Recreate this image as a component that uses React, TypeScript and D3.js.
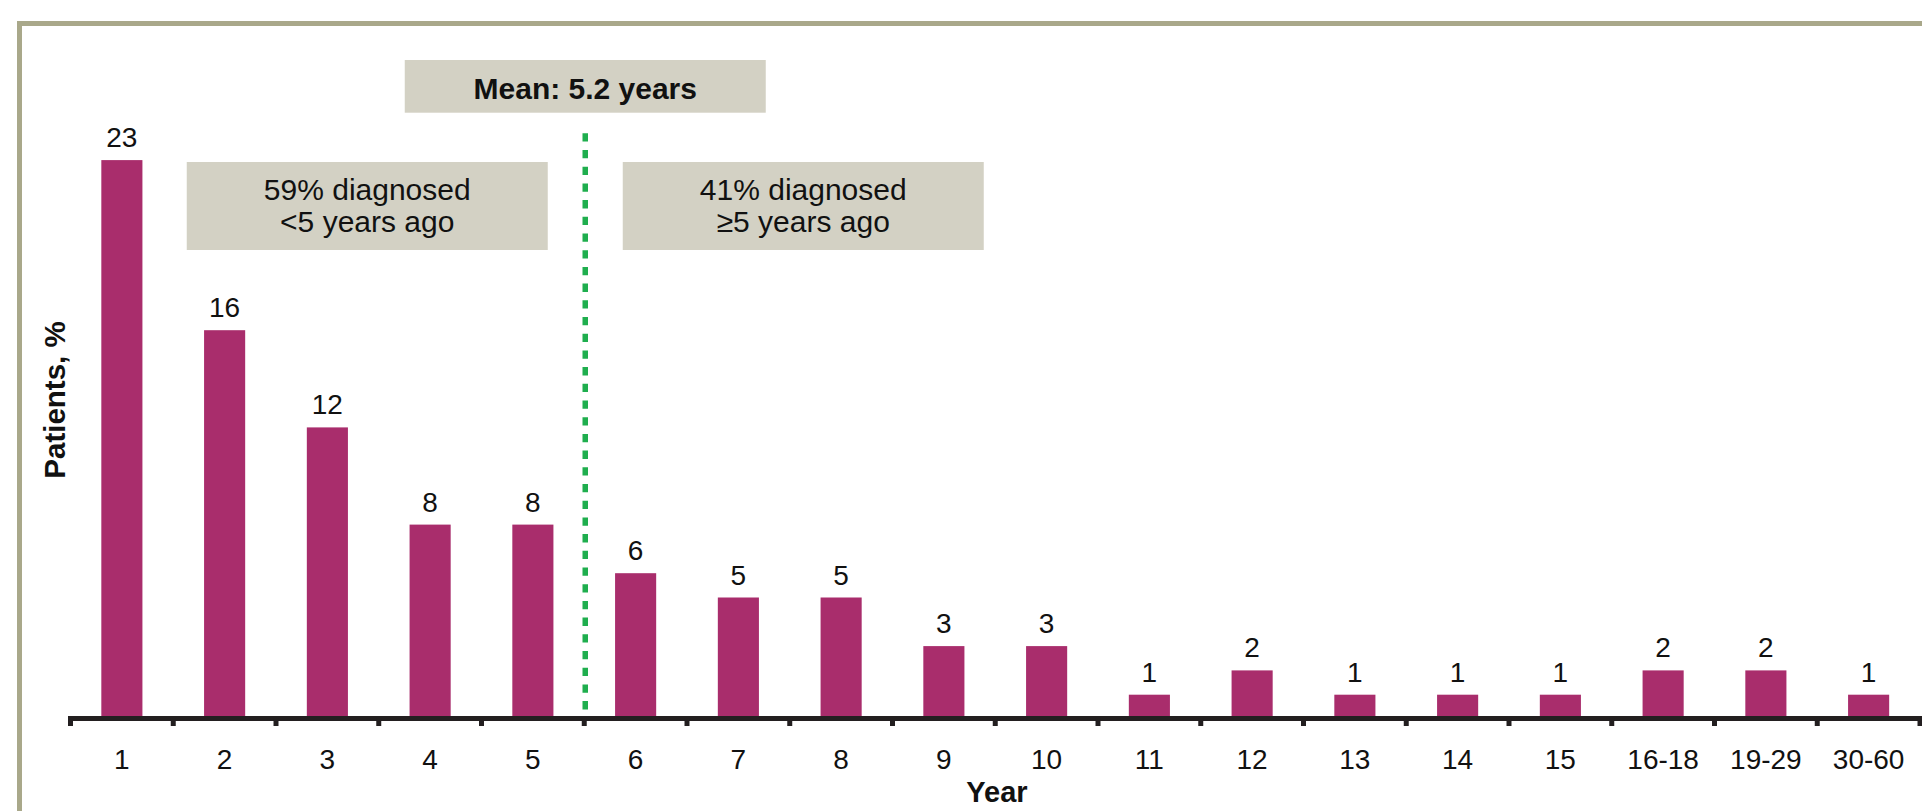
import React from "react";
import * as d3 from "d3";

// Time since diagnosis, share of patients per year bucket
const categories: string[] = [
  "1", "2", "3", "4", "5", "6", "7", "8", "9", "10",
  "11", "12", "13", "14", "15", "16-18", "19-29", "30-60",
];
const patientsPct: number[] = [23, 16, 12, 8, 8, 6, 5, 5, 3, 3, 1, 2, 1, 1, 1, 2, 2, 1];

const meanLabel = "Mean: 5.2 years";
// The split line sits after this category
const splitAfter = "5";
const leftNote: string[] = ["59% diagnosed", "<5 years ago"];
const rightNote: string[] = ["41% diagnosed", "\u22655 years ago"];

const W = 1922;
const H = 811;
const FONT = "'Liberation Sans', Arial, Helvetica, sans-serif";
const BAR = "#A92D6C";
const BOX = "#D3D1C4";
const FRAME = "#A9A88A";
const AXIS = "#231F20";
const GREEN = "#1FAE4E";

export default function App() {
  const x = d3
    .scaleBand<string>()
    .domain(categories)
    .range([70.5, 1920])
    .paddingInner(0.6)
    .paddingOuter(0.3);
  const step = x.step();
  const x0 = 70.5;

  const y = d3.scaleLinear().domain([0, 25]).range([719, 719 - 25 * 24.3]);
  const baseY = y(0);

  const splitX = x0 + (categories.indexOf(splitAfter) + 1) * step + 1;
  const tickXs = d3.range(categories.length + 1).map((i) => x0 + i * step);

  const noteW = 361;
  const noteH = 88;
  const noteTop = 162;
  const noteOffset = 218;

  const renderNote = (lines: string[], cx: number, key: string) => (
    <g key={key}>
      <rect x={cx - noteW / 2} y={noteTop} width={noteW} height={noteH} fill={BOX} />
      {lines.map((t, i) => (
        <text
          key={i}
          x={cx}
          y={noteTop + 37.5 + i * 32}
          textAnchor="middle"
          fontSize={30}
          fontFamily={FONT}
          fill="#111"
        >
          {t}
        </text>
      ))}
    </g>
  );

  return (
    <svg
      width={W}
      height={H}
      style={{ position: "absolute", left: 0, top: 0, background: "#fff" }}
    >
      {/* frame */}
      <line x1={17} x2={W} y1={23.5} y2={23.5} stroke={FRAME} strokeWidth={5} />
      <line x1={19.5} x2={19.5} y1={21} y2={H} stroke={FRAME} strokeWidth={5} />

      {/* bars */}
      {categories.map((c, i) => (
        <rect
          key={c}
          x={x(c)}
          y={y(patientsPct[i])}
          width={x.bandwidth()}
          height={baseY - y(patientsPct[i])}
          fill={BAR}
        />
      ))}

      {/* value labels */}
      {categories.map((c, i) => (
        <text
          key={"v" + c}
          x={(x(c) ?? 0) + x.bandwidth() / 2}
          y={y(patientsPct[i]) - 13}
          textAnchor="middle"
          fontSize={28}
          fontFamily={FONT}
          fill="#111"
        >
          {patientsPct[i]}
        </text>
      ))}

      {/* split line */}
      <line
        x1={splitX}
        x2={splitX}
        y1={133.3}
        y2={716}
        stroke={GREEN}
        strokeWidth={5.5}
        strokeDasharray="8.3 8.4"
      />

      {/* x axis */}
      <line x1={68} x2={W} y1={718.6} y2={718.6} stroke={AXIS} strokeWidth={5} />
      {tickXs.map((tx, i) => (
        <line key={"t" + i} x1={tx} x2={tx} y1={718} y2={726} stroke={AXIS} strokeWidth={5} />
      ))}
      {categories.map((c) => (
        <text
          key={"l" + c}
          x={(x(c) ?? 0) + x.bandwidth() / 2}
          y={769.3}
          textAnchor="middle"
          fontSize={28}
          fontFamily={FONT}
          fill="#111"
        >
          {c}
        </text>
      ))}

      {/* axis titles */}
      <text
        x={997}
        y={801.7}
        textAnchor="middle"
        fontSize={29}
        fontWeight="bold"
        fontFamily={FONT}
        fill="#111"
      >
        Year
      </text>
      <text
        transform={`translate(65,400) rotate(-90)`}
        textAnchor="middle"
        fontSize={29.5}
        fontWeight="bold"
        fontFamily={FONT}
        fill="#111"
      >
        Patients, %
      </text>

      {/* mean box */}
      <rect x={splitX - 180.5} y={60} width={361} height={52.7} fill={BOX} />
      <text
        x={splitX}
        y={99.3}
        textAnchor="middle"
        fontSize={30}
        fontWeight="bold"
        fontFamily={FONT}
        fill="#111"
      >
        {meanLabel}
      </text>

      {renderNote(leftNote, splitX - noteOffset, "left")}
      {renderNote(rightNote, splitX + noteOffset, "right")}
    </svg>
  );
}
